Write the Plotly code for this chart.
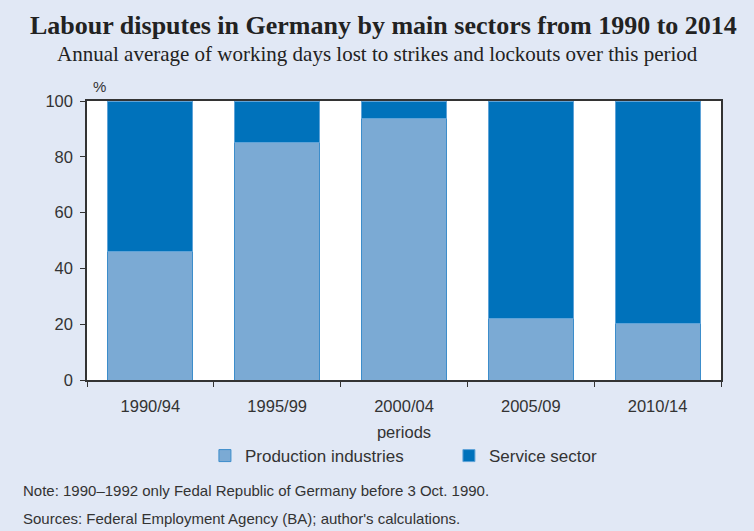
import plotly.graph_objects as go

periods = ["1990/94", "1995/99", "2000/04", "2005/09", "2010/14"]
production = [46.2, 85.0, 93.8, 22.2, 20.2]
service = [53.8, 15.0, 6.2, 77.8, 79.8]
y_ticks = [0, 20, 40, 60, 80, 100]

BG = "#E1E8F5"
C_PROD = "#7BAAD4"
C_SERV = "#0072BB"
TXT = "#333333"

fig = go.Figure()
fig.add_trace(go.Bar(x=periods, y=production, name="Production industries",
                     marker=dict(color=C_PROD, line=dict(color="#3C8DCB", width=1))))
fig.add_trace(go.Bar(x=periods, y=service, name="Service sector",
                     marker=dict(color=C_SERV, line=dict(color="#5FA3D8", width=1))))

fig.update_layout(
    barmode="stack",
    bargap=0.33,
    width=754, height=531,
    paper_bgcolor=BG, plot_bgcolor="white",
    margin=dict(l=87, r=33, t=101, b=151),
    font=dict(family="Liberation Sans, Arial, sans-serif", size=16.5, color=TXT),
    showlegend=True,
    legend=dict(orientation="h", x=0.186, xanchor="left", y=-0.208, yanchor="top",
                font=dict(size=17, color=TXT), bgcolor="rgba(0,0,0,0)",
                itemwidth=30, traceorder="normal", entrywidthmode="pixels",
                entrywidth=199),
)
fig.update_xaxes(
    type="category", tickson="boundaries", ticks="outside", ticklen=5, tickcolor=TXT,
    showline=True, linecolor=TXT, linewidth=1.5, mirror=True, showgrid=False,
    ticklabelstandoff=10,
    title=dict(text="periods", font=dict(size=16.5, color=TXT), standoff=13),
    tickfont=dict(size=16.5, color=TXT),
)
fig.update_yaxes(
    range=[0, 100], tickvals=y_ticks, ticks="outside", ticklen=5, tickcolor=TXT,
    showline=True, linecolor=TXT, linewidth=1.5, mirror=True, showgrid=False,
    ticklabelstandoff=4,
    zeroline=False, tickfont=dict(size=16.5, color=TXT),
)

fig.add_annotation(text="<b>Labour disputes in Germany by main sectors from 1990 to 2014</b>",
                   xref="paper", yref="paper", x=0.5, xshift=-21, y=1, yshift=76, xanchor="center", yanchor="middle",
                   showarrow=False, font=dict(family="Liberation Serif, Times New Roman, serif", size=26, color="#222222"))
fig.add_annotation(text="Annual average of working days lost to strikes and lockouts over this period",
                   xref="paper", yref="paper", x=0.5, xshift=-27, y=1, yshift=47, xanchor="center", yanchor="middle",
                   showarrow=False, font=dict(family="Liberation Serif, Times New Roman, serif", size=21, color="#222222"))
fig.add_annotation(text="%", xref="paper", yref="paper", x=0, xshift=4, y=1, yshift=15,
                   xanchor="left", yanchor="middle", showarrow=False, font=dict(size=15, color=TXT))
fig.add_annotation(text="Note: 1990\u20131992 only Fedal Republic of Germany before 3 Oct. 1990.",
                   xref="paper", yref="paper", x=0, xshift=-66, y=0, yshift=-110,
                   xanchor="left", yanchor="middle", showarrow=False, font=dict(size=15, color=TXT))
fig.add_annotation(text="Sources: Federal Employment Agency (BA); author's calculations.",
                   xref="paper", yref="paper", x=0, xshift=-66, y=0, yshift=-138,
                   xanchor="left", yanchor="middle", showarrow=False, font=dict(size=15, color=TXT))

fig.write_html("out.html", config={"displayModeBar": False},
               post_script="document.body.style.margin='0';document.body.style.padding='0';")
